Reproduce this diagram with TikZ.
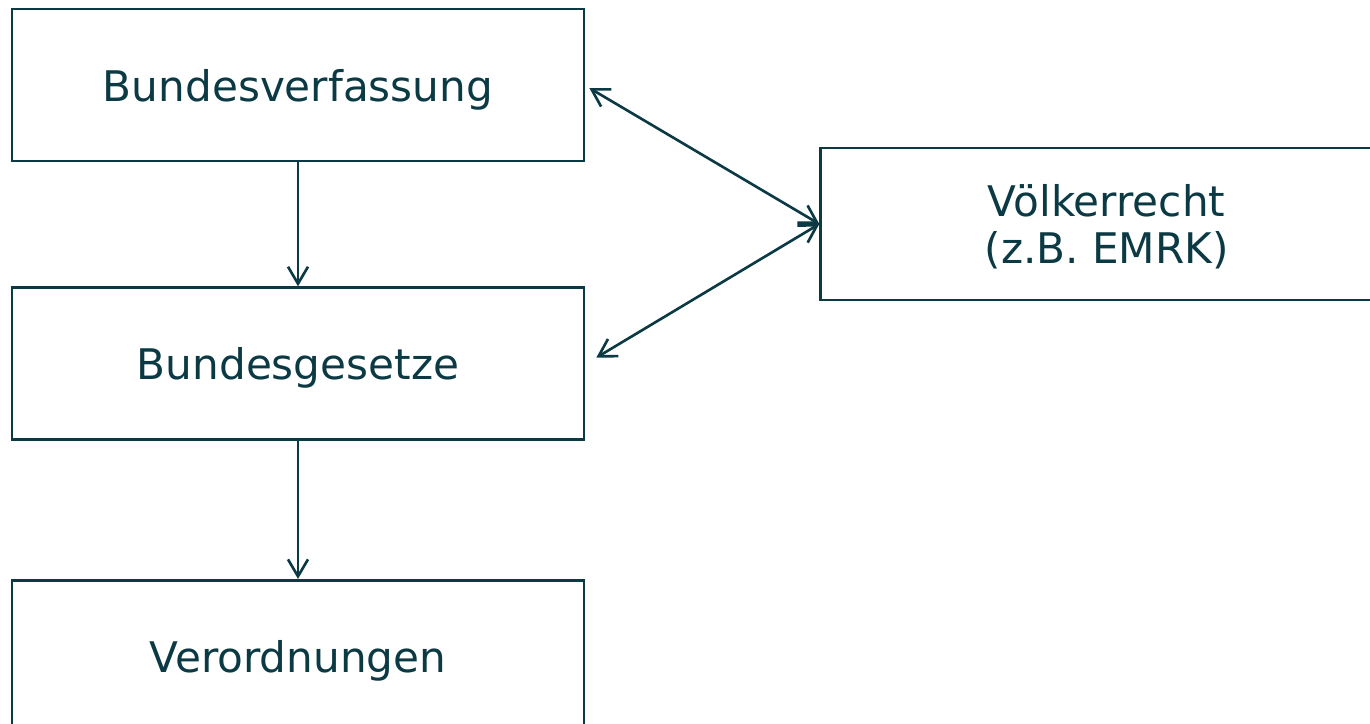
\documentclass[tikz,border=0pt]{standalone}
\usepackage{fontspec}
\setmainfont{DejaVu Sans}
\usetikzlibrary{arrows.meta,positioning,calc}
\definecolor{tealdark}{HTML}{0B3A44}

\begin{document}
\begin{tikzpicture}[
  font=\fontsize{24}{27}\selectfont,
  level/.style={draw=tealdark, line width=1.5pt, text=tealdark, align=center, minimum width=11.44cm, minimum height=3.04cm, inner sep=0pt, text depth=0pt},
  arr/.style={-{Straight Barb[length=3.4mm, width=4mm]}, draw=tealdark, line width=1.5pt},
  arrb/.style={{Straight Barb[length=3.4mm, width=4mm]}-{Straight Barb[length=3.4mm, width=4mm]}, draw=tealdark, line width=1.5pt}
]
\useasboundingbox (0,0) rectangle (27.4,-14.46);

% Hierarchy of norms
\node[level] (bv) at (5.96,-1.70) {Bundesverfassung};
\node[level, below=2.48cm of bv] (bg) {Bundesgesetze};
\node[level, below=2.76cm of bg] (vo) {Verordnungen};

% international law
\node[level, right=4.68cm of bv.north east, anchor=north west, yshift=-2.78cm] (vr) {Völkerrecht\\(z.B. EMRK)};

\draw[arr] (bv) -- (bg);
\draw[arr] (bg) -- (vo);

% two-way relations
\coordinate (bvr) at ($(bv.east)+(0.08,-0.06)$);
\coordinate (bgr) at ($(bg.east)+(0.22,0.12)$);
\draw[arrb] (bvr) -- (vr.west);
\draw[arrb] (bgr) -- (vr.west);

\end{tikzpicture}
\end{document}
